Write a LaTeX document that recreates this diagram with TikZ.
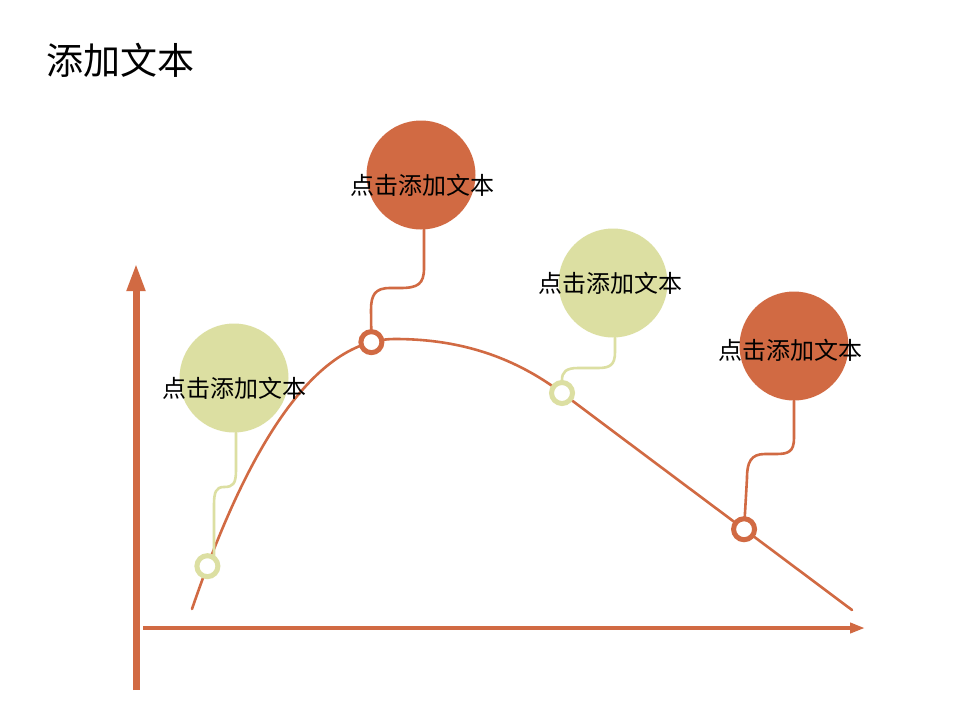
\documentclass[tikz,border=0pt]{standalone}
\usepackage{fontspec}
\newfontfamily\cjk{Noto Sans CJK SC}
\usetikzlibrary{arrows.meta}
\definecolor{myorange}{RGB}{209,106,67}
\definecolor{mygreen}{RGB}{220,223,162}
\tikzset{
  bubble/.style={circle, minimum size=109pt, inner sep=0pt, draw=none},
  bubblelabel/.style={inner sep=0pt, font=\cjk\fontsize{24}{28}\selectfont, text=black},
  ring/.style={circle, minimum size=21pt, inner sep=0pt, line width=5pt, fill=white},
  link/.style={line width=2.6pt, line cap=round, line join=round},
  curveline/.style={line width=2.6pt, myorange, line cap=round},
}
\begin{document}
\begin{tikzpicture}[x=1pt,y=-1pt]
\useasboundingbox (0,0) rectangle (960,720);
\fill[white] (0,0) rectangle (960,720);

\node[anchor=west, inner sep=0pt, font=\cjk\fontsize{37}{42}\selectfont] (title) at (46,60) {添加文本};

% axes
\coordinate (ybot) at (136,690);
\coordinate (ytop) at (136,263);
\coordinate (xleft) at (143,628);
\coordinate (xright) at (865,628);
\draw[myorange, line width=7pt, -{Triangle[width=17pt,length=28pt]}] (ybot) -- (ytop);
\draw[myorange, line width=4pt, -{Triangle[width=10pt,length=15pt]}] (xleft) -- (xright);

% curve
\draw[curveline] (192,609) .. controls (248,445) and (315,339) .. coordinate[pos=0.09] (m1) coordinate[pos=0.9] (m2) (395,339)
  .. controls (470,339) and (522,363) .. (562,393) coordinate (m3)
  .. controls (660,466.5) and (780,556) .. coordinate[pos=0.59] (m4) (852,610);

% bubbles
\node[bubble, fill=mygreen] (c1) at (234,378) {};
\node[bubble, fill=myorange] (c2) at (421,175) {};
\node[bubble, fill=mygreen] (c3) at (613,283) {};
\node[bubble, fill=myorange] (c4) at (794,346) {};

\node[bubblelabel] (t1) at (234,388) {点击添加文本};
\node[bubblelabel] (t2) at (422,185) {点击添加文本};
\node[bubblelabel] (t3) at (610,283) {点击添加文本};
\node[bubblelabel] (t4) at (790,350) {点击添加文本};

% connectors
\draw[link, mygreen] ([xshift=2pt]c1.south) -- (236,470) .. controls (236,484) and (233,487) .. (224,487)
  .. controls (216,487) and (214,492) .. (214,505) -- (214,556);
\draw[link, myorange] ([xshift=3pt]c2.south) -- (424,268) .. controls (424,284) and (418,288) .. (400,288)
  -- (390,288) .. controls (375,288) and (371,295) .. (371,310) -- (m2);
\draw[link, mygreen] ([xshift=2pt]c3.south) -- (615,352) .. controls (615,365) and (610,368) .. (598,368)
  -- (578,368) .. controls (566,368) and (562,372) .. (562,380) -- (m3);
\draw[link, myorange] (c4.south) -- (794,438) .. controls (794,452) and (788,454) .. (776,454)
  -- (765,454) .. controls (751,454) and (747,462) .. (747,478) -- (m4);

% markers
\node[ring, draw=mygreen] (r1) at (m1) {};
\node[ring, draw=myorange] (r2) at (m2) {};
\node[ring, draw=mygreen] (r3) at (m3) {};
\node[ring, draw=myorange] (r4) at (m4) {};
\end{tikzpicture}
\end{document}
